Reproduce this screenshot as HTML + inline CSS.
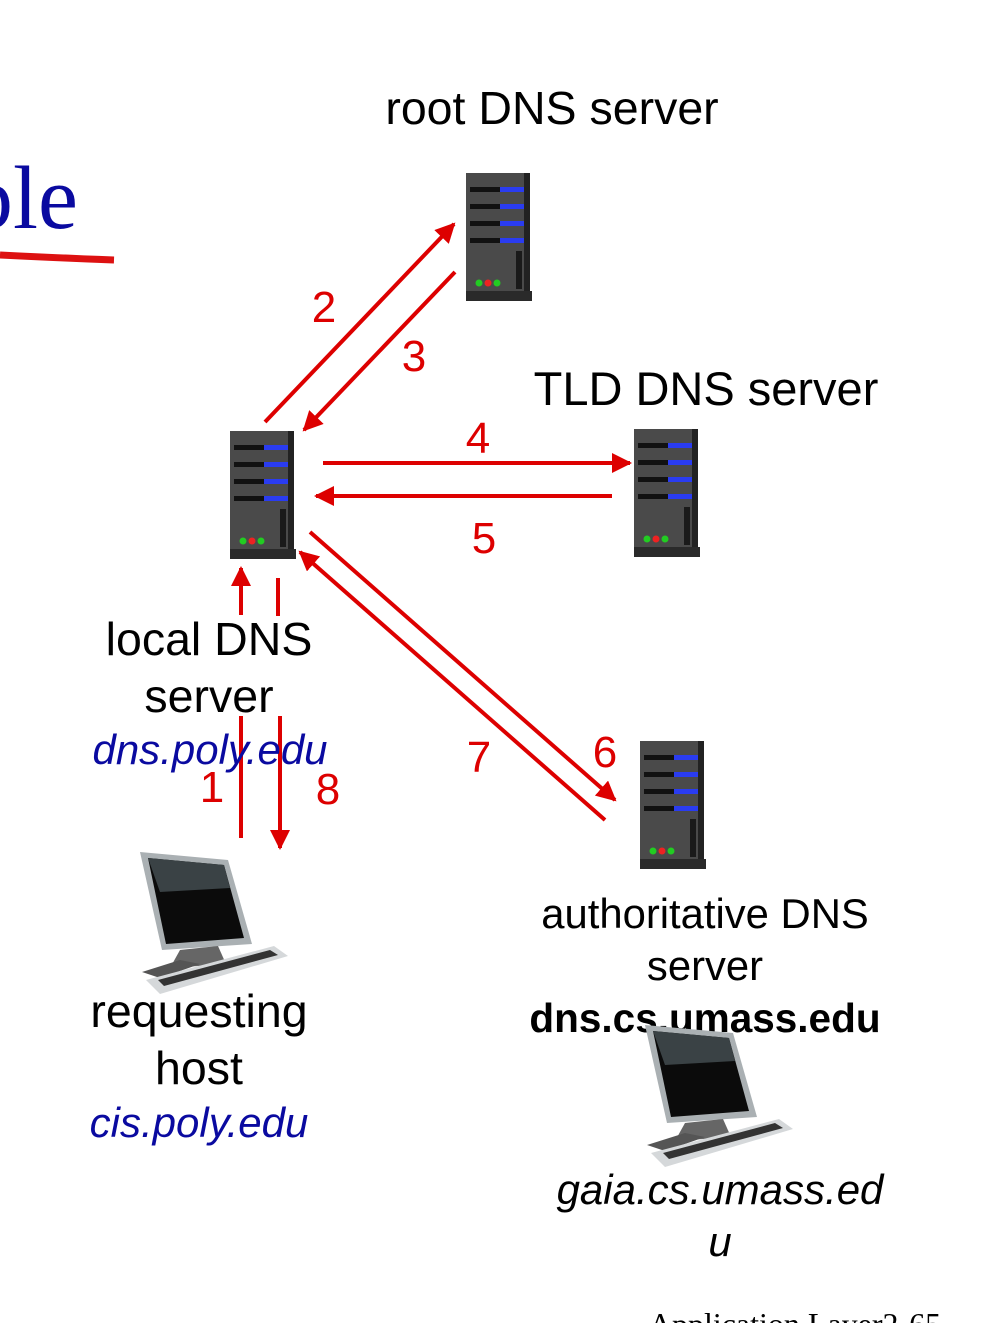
<!DOCTYPE html>
<html><head><meta charset="utf-8"><style>
body{margin:0;background:#fff;width:1000px;height:1323px;overflow:hidden}
svg{display:block}
text{font-family:"Liberation Sans",sans-serif}
</style></head><body>
<svg width="1000" height="1323" viewBox="0 0 1000 1323">
<defs>
<g id="srv">
<rect x="2" y="0" width="64" height="128" fill="#4a4a4a"/>
<rect x="60" y="0" width="6" height="128" fill="#222"/>
<rect x="2" y="118" width="66" height="10" fill="#2a2a2a"/>
<g fill="#111"><rect x="6" y="14" width="32" height="5"/><rect x="6" y="31" width="32" height="5"/><rect x="6" y="48" width="32" height="5"/><rect x="6" y="65" width="32" height="5"/></g>
<g fill="#2a3cf0"><rect x="36" y="14" width="24" height="5"/><rect x="36" y="31" width="24" height="5"/><rect x="36" y="48" width="24" height="5"/><rect x="36" y="65" width="24" height="5"/></g>
<rect x="52" y="78" width="6" height="38" fill="#1a1a1a"/>
<circle cx="15" cy="110" r="3.5" fill="#2c2"/><circle cx="24" cy="110" r="3.5" fill="#e22"/><circle cx="33" cy="110" r="3.5" fill="#2c2"/>
</g>
<g id="pc">
<polygon points="0,0 88,8 112,92 22,98" fill="#aab0b3"/>
<polygon points="8,6 84,13 104,86 26,92" fill="#0b0b0b"/>
<polygon points="8,6 84,13 90,36 20,40" fill="#3a4245"/>
<polygon points="40,98 78,94 86,112 30,116" fill="#666"/>
<polygon points="2,120 40,108 60,112 20,126" fill="#555"/>
<polygon points="6,128 134,94 148,104 20,142" fill="#d5d8da"/>
<polygon points="18,128 130,98 138,103 24,134" fill="#333"/>
</g>
<marker id="ah" viewBox="0 0 10 10" refX="9" refY="5" markerWidth="5" markerHeight="5" orient="auto"><path d="M0,0L10,5L0,10z" fill="#d00"/></marker>
</defs>
<text x="-32" y="228" font-size="90" fill="#0a0aa0" style="font-family:'Liberation Serif',serif">ple</text>
<path d="M0,255 Q60,258 114,260" stroke="#d11" stroke-width="7" fill="none"/>
<text x="552" y="124" font-size="46.5" text-anchor="middle">root DNS server</text>
<text x="706" y="405" font-size="47" text-anchor="middle">TLD DNS server</text>
<use href="#srv" x="464" y="173"/>
<use href="#srv" x="228" y="431"/>
<use href="#srv" x="632" y="429"/>
<use href="#srv" x="638" y="741"/>
<g stroke="#d00" stroke-width="4" fill="none" marker-end="url(#ah)">
<line x1="265" y1="422" x2="454" y2="224"/>
<line x1="455" y1="272" x2="304" y2="430"/>
<line x1="323" y1="463" x2="630" y2="463"/>
<line x1="612" y1="496" x2="316" y2="496"/>
<line x1="310" y1="532" x2="615" y2="800"/>
<line x1="605" y1="820" x2="300" y2="552"/>
<line x1="241" y1="615" x2="241" y2="568"/>
<line x1="280" y1="716" x2="280" y2="848"/>
</g>
<g stroke="#d00" stroke-width="4"><line x1="241" y1="838" x2="241" y2="716"/><line x1="278" y1="578" x2="278" y2="616"/></g>
<g font-size="44" fill="#d00" text-anchor="middle">
<text x="324" y="322">2</text><text x="414" y="371">3</text><text x="478" y="453">4</text><text x="484" y="553">5</text>
<text x="605" y="767">6</text><text x="479" y="772">7</text><text x="212" y="802">1</text><text x="328" y="804">8</text>
</g>
<g font-size="46.5" text-anchor="middle">
<text x="209" y="655">local DNS</text><text x="209" y="712">server</text>
<text x="199" y="1027">requesting</text><text x="199" y="1084">host</text>
<text x="705" y="928" font-size="41.8">authoritative DNS</text><text x="705" y="980" font-size="41.8">server</text>
<text x="705" y="1032" font-size="40.5" font-weight="bold">dns.cs.umass.edu</text>
</g>
<g font-size="42" font-style="italic" text-anchor="middle">
<text x="210" y="764" fill="#0a0aa0">dns.poly.edu</text>
<text x="199" y="1137" fill="#0a0aa0">cis.poly.edu</text>
<text x="720" y="1204" fill="#000">gaia.cs.umass.ed</text>
<text x="720" y="1256" fill="#000">u</text>
</g>
<use href="#pc" x="140" y="852"/>
<use href="#pc" x="645" y="1025"/>
<text x="795" y="1335" font-size="32" text-anchor="middle" style="font-family:'Liberation Serif',serif">Application Layer2-65</text>
</svg>
</body></html>
